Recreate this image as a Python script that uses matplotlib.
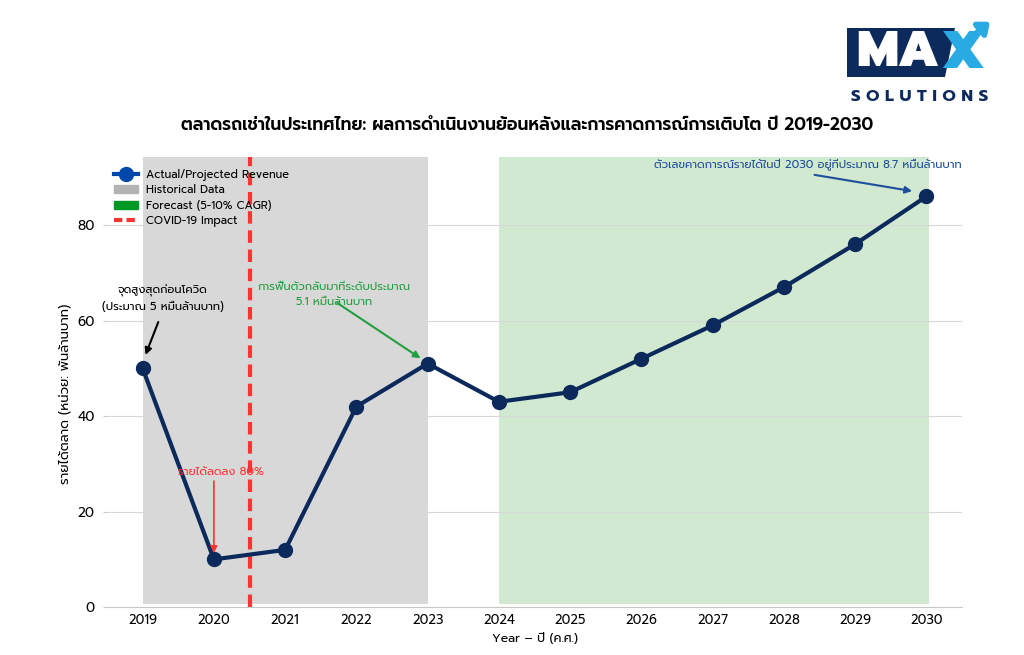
import matplotlib
matplotlib.use("Agg")
import matplotlib.pyplot as plt
from matplotlib.patches import Patch, Polygon, FancyArrowPatch
from matplotlib.lines import Line2D

years = [2019, 2020, 2021, 2022, 2023, 2024, 2025, 2026, 2027, 2028, 2029, 2030]
revenue = [50, 10, 12, 42, 51, 43, 45, 52, 59, 67, 76, 86]
yticks = [0, 20, 40, 60, 80]
legend_labels = ['Actual/Projected Revenue', 'Historical Data', 'Forecast (5-10% CAGR)', 'COVID-19 Impact']

plt.rcParams['font.family'] = ['Prompt', 'Kanit', 'DejaVu Sans']
plt.rcParams['font.weight'] = 'normal'

W, H = 1024, 655
fig = plt.figure(figsize=(W / 100, H / 100), dpi=100)
ax = fig.add_axes([0.1045, 0.073, 0.835, 0.687])
ax.set_xlim(2018.5, 2030.5)
ax.set_ylim(0, 94.2)
ax.axvspan(2019, 2023, ymin=0.007, color='#808080', alpha=0.3, lw=0, zorder=0)
ax.axvspan(2024, 2030.04, ymin=0.007, color='#008000', alpha=0.18, lw=0, zorder=0)
ax.axvline(2020.5, color='#ff3333', lw=3, ls=(0, (3, 1.6)), zorder=2)
ax.plot(years, revenue, color='#0b2a5b', lw=3, marker='o', markersize=10, zorder=3)
ax.set_xticks(years)
ax.set_yticks(yticks)
ax.grid(axis='y', color='#d8d8d8', lw=0.8)
for s in ['left', 'right', 'top']:
    ax.spines[s].set_visible(False)
ax.spines['bottom'].set_color('#c8c8c8')
ax.tick_params(axis='x', length=0, labelsize=9.3, pad=5)
ax.tick_params(axis='y', length=3, color='#cccccc', labelsize=9.8, pad=6)
ax.set_xlabel('Year – ปี (ค.ศ.)', fontsize=8.9, labelpad=4)
ax.set_ylabel('รายได้ตลาด (หน่วย: พันล้านบาท)', fontsize=9.4)
ax.yaxis.set_label_coords(-0.041, 0.475)
fig.text(0.515, 1 - 126 / H,
         'ตลาดรถเช่าในประเทศไทย: ผลการดำเนินงานย้อนหลังและการคาดการณ์การเติบโต ปี 2019-2030',
         ha='center', va='center', fontsize=12.3, fontweight='semibold')

handles = [
    Line2D([0], [0], color='#0047ab', lw=3, marker='o', markersize=10),
    Patch(color='#b3b3b3'),
    Patch(color='#009926'),
    Line2D([0], [0], color='#ff3333', lw=3, ls=(0, (2, 1))),
]
ax.legend(handles, legend_labels, loc='upper left', bbox_to_anchor=(0.0, 0.99), frameon=False,
          fontsize=8, handlelength=2.1, labelspacing=0.3, borderaxespad=0.25)

# annotations: text + arrows
ax.text(2019.28, 64.6, 'จุดสูงสุดก่อนโควิด\n(ประมาณ 5 หมื่นล้านบาท)', ha='center', va='center',
        fontsize=8.2, color='black', linespacing=1.4)
ax.annotate('', xy=(2019.04, 52.8), xytext=(2019.22, 59.7),
            arrowprops=dict(arrowstyle='-|>', color='black', lw=1.5, shrinkA=0, shrinkB=0))
ax.text(2020.1, 28.4, 'รายได้ลดลง 80%', ha='center', va='center', fontsize=8.2, color='#ff3333')
ax.annotate('', xy=(2020.0, 11.3), xytext=(2020.0, 26.4),
            arrowprops=dict(arrowstyle='-|>', color='#ff3333', lw=1.2, shrinkA=0, shrinkB=0))
ax.text(2021.69, 65.5, 'การฟื้นตัวกลับมาที่ระดับประมาณ\n5.1 หมื่นล้านบาท', ha='center', va='center',
        fontsize=8.2, color='#22a040', linespacing=1.4)
ax.annotate('', xy=(2022.9, 52.1), xytext=(2021.73, 63.7),
            arrowprops=dict(arrowstyle='-|>', color='#22a040', lw=1.5, shrinkA=0, shrinkB=0))
ax.text(2028.33, 92.6, 'ตัวเลขคาดการณ์รายได้ในปี 2030 อยู่ที่ประมาณ 8.7 หมื่นล้านบาท', ha='center',
        va='center', fontsize=8.2, color='#1f4e9a')
ax.annotate('', xy=(2029.8, 87.1), xytext=(2028.43, 90.5),
            arrowprops=dict(arrowstyle='-|>', color='#1f4e9a', lw=1.5, shrinkA=0, shrinkB=0))

# logo
def fx(x):
    return x / W

def fy(y):
    return 1 - y / H

navy = '#0d2a5c'
light_blue = '#29aae2'
box = Polygon([(fx(847), fy(28)), (fx(955), fy(28)), (fx(945), fy(77)), (fx(847), fy(77))],
              closed=True, transform=fig.transFigure, facecolor=navy, edgecolor='none')
fig.patches.append(box)
fig.text(fx(898), fy(53), 'MA', ha='center', va='center', fontsize=36, fontweight='black',
         color='white')
fig.text(fx(962), fy(54), 'X', ha='center', va='center', fontsize=38, fontweight='black',
         color=light_blue)
arr = FancyArrowPatch((fx(958), fy(48)), (fx(992), fy(20)), transform=fig.transFigure,
                      arrowstyle='-|>,head_length=6,head_width=5', color=light_blue, lw=4)
fig.patches.append(arr)
fig.text(fx(920), fy(97), 'S O L U T I O N S', ha='center', va='center', fontsize=12,
         fontweight='bold', color=navy)

fig.savefig('out.png', dpi=100)
